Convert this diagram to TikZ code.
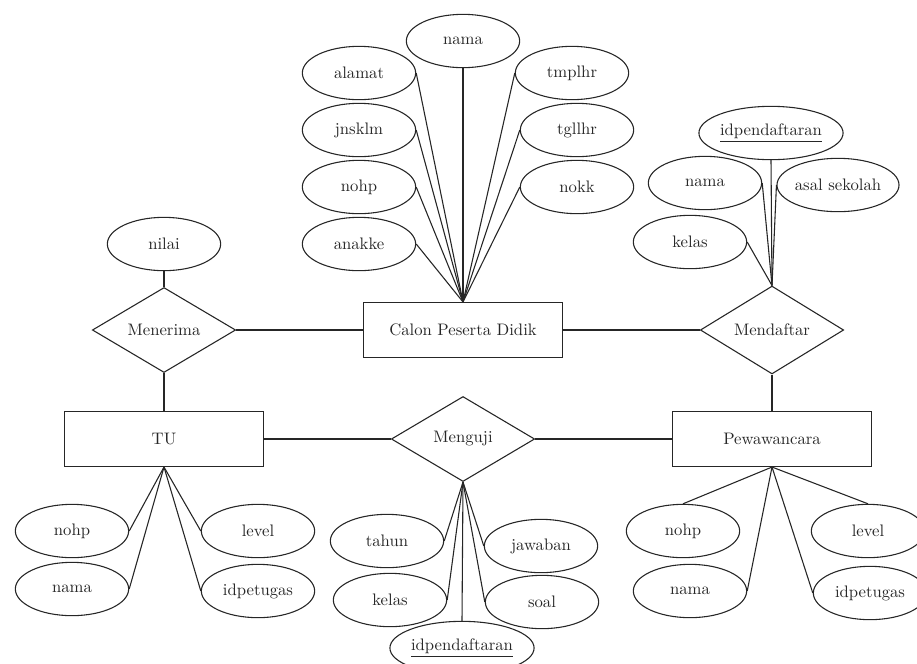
\documentclass[tikz,border=0pt]{standalone}
\usetikzlibrary{shapes.geometric}

\tikzset{
  entitas/.style={draw,rectangle,minimum width=119pt,minimum height=33pt},
  relasi/.style={draw,diamond,minimum width=86pt,minimum height=51pt,inner sep=0pt},
  atribut/.style={draw,ellipse,minimum width=68pt,minimum height=32pt,inner sep=0pt},
}

\begin{document}
\begin{tikzpicture}[x=0.6pt,y=-0.6pt,line width=0.65pt,color=black!85]
      \useasboundingbox (0,0) rectangle (917,663);
      \clip (0,0) rectangle (917,663);

      % entitas dan relasi
      \node[entitas] (calon) at (463,330) {Calon Peserta Didik};
      \node[entitas] (tu) at (164,439) {TU};
      \node[entitas] (pewawancara) at (772,439) {Pewawancara};

      \node[relasi] (menerima) at (164,330) {Menerima};
      \node[relasi] (mendaftar) at (772,330) {Mendaftar};
      \node[relasi] (menguji) at (463,439) {Menguji};

      \draw (menerima) -- (calon);
      \draw (calon) -- (mendaftar);
      \draw (mendaftar) -- (pewawancara);
      \draw (menerima) -- (tu);
      \draw (tu) -- (menguji);
      \draw (menguji) -- (pewawancara);

      % atribut calon peserta didik
      \node[atribut] (cnama) at (463,41) {nama};
      \node[atribut] (alamat) at (359,73) {alamat};
      \node[atribut] (jnsklm) at (359,130) {jnsklm};
      \node[atribut] (cnohp) at (359,187) {nohp};
      \node[atribut] (anakke) at (359,244) {anakke};
      \node[atribut] (tmplhr) at (572,73) {tmplhr};
      \node[atribut] (tgllhr) at (577,130) {tgllhr};
      \node[atribut] (nokk) at (577,187) {nokk};

      \draw (cnama.south) -- (calon.north);
      \foreach \a in {alamat,jnsklm,cnohp,anakke}
               \draw (\a.east) -- (calon.north);
      \foreach \a in {tmplhr,tgllhr,nokk}
               \draw (\a.west) -- (calon.north);

      % atribut mendaftar
      \node[atribut,minimum width=86pt] (did) at (771,133) {\underline{idpendaftaran}};
      \node[atribut] (dnama) at (705,183) {nama};
      \node[atribut] (asal) at (838,185) {asal sekolah};
      \node[atribut] (dkelas) at (690,242) {kelas};

      \draw (did.south) -- (mendaftar.north);
      \draw (dnama.east) -- (mendaftar.north);
      \draw (asal.west) -- (mendaftar.north);
      \draw (dkelas.east) -- (mendaftar.north);

      % atribut menerima
      \node[atribut] (nilai) at (164,244) {nilai};
      \draw (nilai) -- (menerima);

      % atribut tu
      \node[atribut] (tnohp) at (72,531) {nohp};
      \node[atribut] (tnama) at (72,589) {nama};
      \node[atribut] (tlevel) at (258,531) {level};
      \node[atribut] (tid) at (258,591) {idpetugas};

      \foreach \a in {tnohp,tnama}
               \draw (\a.east) -- (tu.south);
      \foreach \a in {tlevel,tid}
               \draw (\a.west) -- (tu.south);

      % atribut menguji
      \node[atribut] (tahun) at (387,541) {tahun};
      \node[atribut] (ukelas) at (390,600) {kelas};
      \node[atribut] (jawaban) at (541,546) {jawaban};
      \node[atribut] (soal) at (542,602) {soal};
      \node[atribut,minimum width=82pt] (uid) at (462,648) {\underline{idpendaftaran}};

      \foreach \a in {tahun,ukelas}
               \draw (\a.east) -- (menguji.south);
      \foreach \a in {jawaban,soal}
               \draw (\a.west) -- (menguji.south);
      \draw (uid.north) -- (menguji.south);

      % atribut pewawancara
      \node[atribut] (pnohp) at (683,531) {nohp};
      \node[atribut] (pnama) at (690,591) {nama};
      \node[atribut] (plevel) at (868,531) {level};
      \node[atribut] (pid) at (870,593) {idpetugas};

      \draw (pnohp.north) -- (pewawancara.south);
      \draw (pnama.east) -- (pewawancara.south);
      \draw (pid.west) -- (pewawancara.south);
      \draw (plevel.north) -- (pewawancara.south);
\end{tikzpicture}
\end{document}
